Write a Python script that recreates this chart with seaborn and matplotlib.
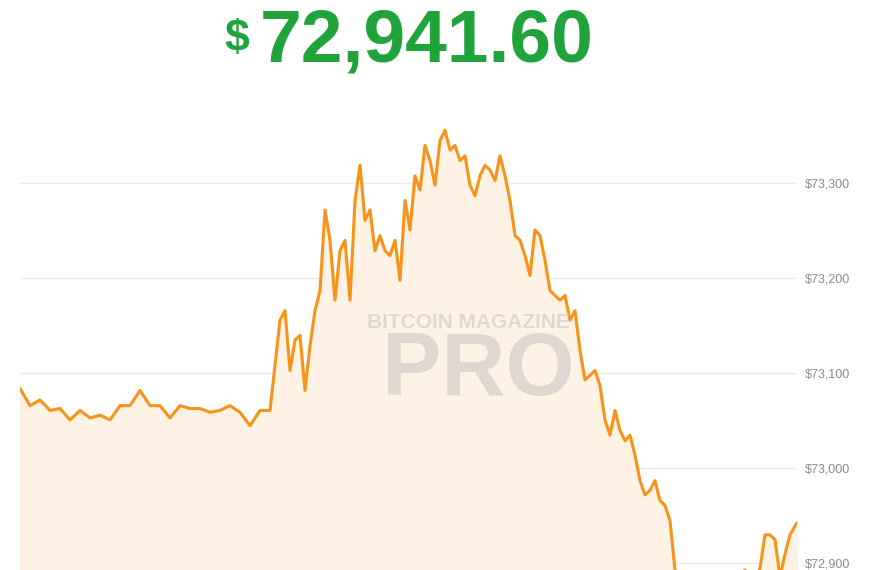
import numpy as np
import matplotlib.pyplot as plt
import seaborn as sns

# minutes since start of the window (uneven sampling)
minutes = (list(range(0, 260, 10)) + list(range(260, 665, 5))
           + list(range(665, 740, 5)) + [740, 745, 750, 755, 760, 765, 770, 777])
price = [73084, 73066, 73072, 73061, 73063, 73051, 73061, 73053, 73056, 73051,
         73066, 73066, 73082, 73066, 73066, 73053, 73066, 73063, 73063, 73059,
         73061, 73066, 73059, 73045, 73061, 73061,
         73156, 73166, 73103, 73135, 73140, 73082, 73129, 73166, 73187, 73272,
         73240, 73177, 73229, 73240, 73177, 73282, 73319, 73261, 73272, 73229,
         73245, 73229, 73224, 73240, 73198, 73282, 73251, 73308, 73293, 73340,
         73324, 73298, 73345, 73356, 73335, 73340, 73324, 73329, 73298, 73287,
         73308, 73319, 73314, 73303, 73329, 73308, 73282, 73245, 73240, 73224,
         73203, 73251, 73245, 73219, 73187, 73182, 73177, 73182, 73156, 73166,
         73124, 73093, 73098, 73103, 73087, 73051, 73035, 73061, 73040, 73029,
         73035, 73014, 72987, 72972, 72977, 72987, 72966, 72961, 72945, 72893,
         72880,
         72870, 72860, 72865, 72870, 72875, 72880, 72885, 72880, 72875, 72870,
         72880, 72888, 72893, 72885, 72880,
         72895, 72930, 72930, 72925, 72885, 72910, 72930, 72943]
n = min(len(minutes), len(price))
minutes, price = minutes[:n], price[:n]
yticks = [72900, 73000, 73100, 73200, 73300]
current = "72,941.60"

sns.set_style("white")
plt.rcParams["font.family"] = ["Liberation Sans", "DejaVu Sans"]
fig = plt.figure(figsize=(8.7, 5.7), dpi=100)
ax = fig.add_axes([20 / 870, 0, 777 / 870, 475 / 570])

ax.fill_between(minutes, price, 72800, color="#fdf2e4", zorder=1)
sns.lineplot(x=minutes, y=price, ax=ax, color="#f7931a", linewidth=2.2, zorder=3)

ax.set_xlim(minutes[0], minutes[-1])
ax.set_ylim(72893, 73393)
ax.set_yticks(yticks)
ax.yaxis.tick_right()
ax.set_yticklabels([f"${v:,}" for v in yticks], color="#8a8a8a", fontsize=9)
ax.tick_params(axis="y", length=0, pad=6)
ax.set_xticks([])
ax.grid(axis="y", color="#ebebeb", linewidth=1)
ax.set_axisbelow(True)
for s in ax.spines.values():
    s.set_visible(False)

# watermark
fig.text(468 / 870, 1 - 322 / 570, "BITCOIN MAGAZINE", fontsize=15, fontweight="bold",
         color="#d8d2cc", alpha=0.8, ha="center", va="center", zorder=2)
fig.text(478 / 870, 1 - 372 / 570, "PRO", fontsize=64, fontweight="bold",
         color="#d8d2cc", alpha=0.8, ha="center", va="center", zorder=2)

# headline price
fig.text(237 / 870, 1 - 40 / 570, "$", fontsize=32, fontweight="bold",
         color="#1fa33a", ha="center", va="center")
fig.text(260 / 870, 1 - 42 / 570, current, fontsize=54, fontweight="bold",
         color="#1fa33a", ha="left", va="center")

fig.savefig("out.png", dpi=100)
